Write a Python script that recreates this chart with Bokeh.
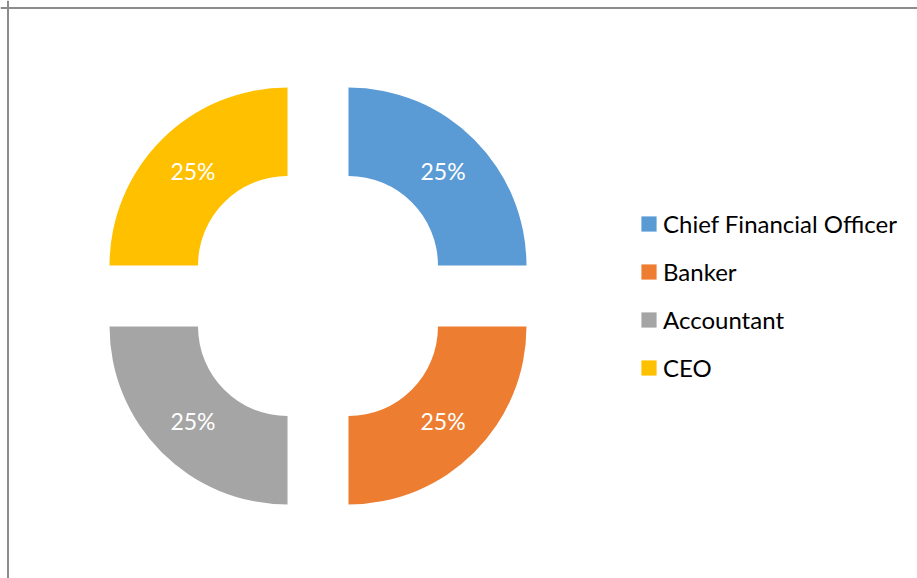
import math
from bokeh.plotting import figure
from bokeh.models import ColumnDataSource, Range1d, Legend, LegendItem, Span
from bokeh.core.properties import value
from bokeh.embed import file_html
from bokeh.resources import INLINE

categories = ["Chief Financial Officer", "Banker", "Accountant", "CEO"]
values = [25, 25, 25, 25]
colors = ["#5B9BD5", "#ED7D31", "#A5A5A5", "#FFC000"]

W, H = 917, 578
CX, CY = 317.5, 282.5
R_OUT, R_IN = 178, 89.5
EXPLODE = 43.1
FONT = "Lato"

total = sum(values)
starts, ends, xs, ys, lx, ly, labels = [], [], [], [], [], [], []
ang = math.pi / 2
for v in values:
    a0 = ang
    a1 = ang - 2 * math.pi * v / total
    mid = (a0 + a1) / 2
    cx = CX + EXPLODE * math.cos(mid)
    cy = CY + EXPLODE * math.sin(mid)
    starts.append(a1)
    ends.append(a0)
    xs.append(cx)
    ys.append(cy)
    rm = (R_OUT + R_IN) / 2
    lx.append(cx + rm * math.cos(mid))
    ly.append(cy + rm * math.sin(mid))
    labels.append(f"{v / total:.0%}")
    ang = a1

src = ColumnDataSource(dict(x=xs, y=ys, start=starts, end=ends, color=colors,
                            cat=categories, lx=lx, ly=ly, label=labels))

p = figure(width=W, height=H, output_backend="svg", toolbar_location=None,
           x_range=Range1d(0, W), y_range=Range1d(0, H), min_border=0)
p.axis.visible = False
p.grid.visible = False
p.outline_line_color = None
p.background_fill_color = "white"
p.border_fill_color = "white"

r = p.annular_wedge(x="x", y="y", inner_radius=R_IN, outer_radius=R_OUT,
                    start_angle="start", end_angle="end", fill_color="color",
                    line_color=None, source=src)

p.text(x="lx", y="ly", text="label", source=src, text_color="white",
       text_font=value(FONT), text_font_size="23px", text_align="center",
       text_baseline="middle")

p.add_layout(Span(location=7.5, dimension="height", line_color="#8c8c8c", line_width=2))
p.add_layout(Span(location=H - 7.5, dimension="width", line_color="#8c8c8c", line_width=2))

items = [LegendItem(label=c, renderers=[r], index=i) for i, c in enumerate(categories)]
legend = Legend(items=items, location=(639, 196), orientation="vertical",
                border_line_color=None, background_fill_alpha=0,
                label_text_font=FONT, label_text_font_size="24px",
                label_text_color="#000000", glyph_width=19, glyph_height=19,
                label_height=30, label_standoff=5, spacing=18, padding=0, margin=0)
p.add_layout(legend)

open("out.html", "w").write(file_html(p, INLINE))
